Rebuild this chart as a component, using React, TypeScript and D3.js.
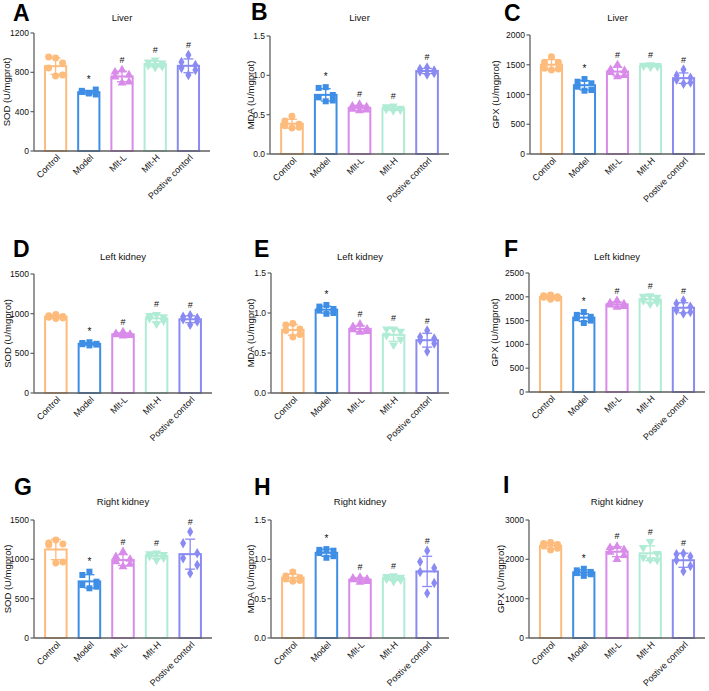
import React from "react";
import * as d3 from "d3";

// ---------- data ----------
const groups = ["Control", "Model", "Mlt-L", "Mlt-H", "Postive contorl"];
const signif = ["", "*", "#", "#", "#"];

const sodLiver = [
  [946, 956, 895, 844, 773, 763],
  [590, 612, 575, 600, 625, 585],
  [824, 803, 773, 753, 702, 692],
  [925, 905, 895, 870, 860, 850],
  [976, 905, 875, 844, 824, 773],
];
const mdaLiver = [
  [0.48, 0.42, 0.38, 0.36, 0.34, 0.33],
  [0.85, 0.84, 0.75, 0.72, 0.68, 0.67],
  [0.63, 0.61, 0.6, 0.57, 0.56, 0.55],
  [0.61, 0.6, 0.58, 0.57, 0.56, 0.55],
  [1.1, 1.08, 1.06, 1.05, 1.03, 1.01],
];
const gpxLiver = [
  [1635, 1541, 1541, 1440, 1430, 1412],
  [1260, 1215, 1188, 1131, 1076, 1064],
  [1500, 1420, 1400, 1370, 1320, 1300],
  [1500, 1490, 1485, 1480, 1470, 1460],
  [1420, 1320, 1280, 1250, 1200, 1180],
];
const sodLeft = [
  [990, 975, 965, 955, 945, 940],
  [640, 630, 620, 615, 610, 600],
  [770, 750, 740, 735, 725, 720],
  [990, 975, 960, 940, 910, 870],
  [980, 960, 945, 930, 900, 860],
];
const mdaLeft = [
  [0.87, 0.85, 0.8, 0.78, 0.73, 0.7],
  [1.1, 1.08, 1.05, 1.03, 1.0, 0.99],
  [0.86, 0.83, 0.8, 0.79, 0.77, 0.76],
  [0.8, 0.8, 0.77, 0.72, 0.67, 0.6],
  [0.78, 0.7, 0.68, 0.66, 0.62, 0.52],
];
const gpxLeft = [
  [2040, 2020, 2000, 1990, 1970, 1950],
  [1680, 1620, 1580, 1550, 1500, 1450],
  [1920, 1870, 1850, 1830, 1800, 1780],
  [2020, 2010, 1990, 1920, 1880, 1850],
  [1920, 1860, 1790, 1720, 1680, 1650],
];
const sodRight = [
  [1246, 1208, 1195, 1182, 966, 954],
  [843, 801, 716, 674, 652, 632],
  [1097, 1034, 1001, 970, 937, 906],
  [1080, 1070, 1060, 1040, 1020, 990],
  [1351, 1204, 1077, 1013, 928, 822],
];
const mdaRight = [
  [0.84, 0.79, 0.77, 0.75, 0.73, 0.72],
  [1.13, 1.12, 1.11, 1.08, 1.04, 1.02],
  [0.77, 0.76, 0.75, 0.74, 0.72, 0.71],
  [0.79, 0.78, 0.77, 0.75, 0.74, 0.72],
  [1.11, 0.97, 0.89, 0.84, 0.7, 0.57],
];
const gpxRight = [
  [2430, 2400, 2380, 2340, 2280, 2240],
  [1760, 1720, 1680, 1650, 1620, 1580],
  [2330, 2300, 2250, 2180, 2100, 2000],
  [2450, 2300, 2150, 2050, 1980, 1990],
  [2150, 2130, 2070, 1980, 1830, 1700],
];

const ticksSOD1200 = [0, 400, 800, 1200];
const ticksMDA = [0, 0.5, 1.0, 1.5];
const ticksGPX2000 = [0, 500, 1000, 1500, 2000];
const ticksSOD1500 = [0, 500, 1000, 1500];
const ticksGPX2500 = [0, 500, 1000, 1500, 2000, 2500];
const ticksGPX3000 = [0, 1000, 2000, 3000];

const panels = [
  { letter: "A", title: "Liver", yLabel: "SOD (U/mgprot)", data: sodLiver, ticks: ticksSOD1200, fmt: "d" },
  { letter: "B", title: "Liver", yLabel: "MDA (U/mgprot)", data: mdaLiver, ticks: ticksMDA, fmt: ".1f" },
  { letter: "C", title: "Liver", yLabel: "GPX (U/mgprot)", data: gpxLiver, ticks: ticksGPX2000, fmt: "d" },
  { letter: "D", title: "Left kidney", yLabel: "SOD (U/mgprot)", data: sodLeft, ticks: ticksSOD1500, fmt: "d" },
  { letter: "E", title: "Left kidney", yLabel: "MDA (U/mgprot)", data: mdaLeft, ticks: ticksMDA, fmt: ".1f" },
  { letter: "F", title: "Left kidney", yLabel: "GPX (U/mgprot)", data: gpxLeft, ticks: ticksGPX2500, fmt: "d" },
  { letter: "G", title: "Right kidney", yLabel: "SOD (U/mgprot)", data: sodRight, ticks: ticksSOD1500, fmt: "d" },
  { letter: "H", title: "Right kidney", yLabel: "MDA (U/mgprot)", data: mdaRight, ticks: ticksMDA, fmt: ".1f" },
  { letter: "I", title: "Right kidney", yLabel: "GPX (U/mgprot)", data: gpxRight, ticks: ticksGPX3000, fmt: "d" },
];

// ---------- layout / style ----------
const layout = [
  { x0: 34, x1: 210, yTop: 33, yBot: 151, lx: 13, ly: 21, tY: 21, yl: 6 },
  { x0: 270, x1: 449, yTop: 36, yBot: 154, lx: 251, ly: 20, tY: 21, yl: 250 },
  { x0: 530, x1: 705, yTop: 35, yBot: 154, lx: 504, ly: 21, tY: 21, yl: 495 },
  { x0: 34, x1: 212, yTop: 274, yBot: 393, lx: 13, ly: 257, tY: 260, yl: 7 },
  { x0: 271, x1: 449, yTop: 273, yBot: 393, lx: 254, ly: 257, tY: 260, yl: 250 },
  { x0: 529, x1: 705, yTop: 273, yBot: 392, lx: 504, ly: 257, tY: 260, yl: 494 },
  { x0: 34, x1: 212, yTop: 520, yBot: 638, lx: 14, ly: 495, tY: 505, yl: 7 },
  { x0: 271, x1: 449, yTop: 520, yBot: 638, lx: 254, ly: 495, tY: 505, yl: 250 },
  { x0: 529, x1: 705, yTop: 520, yBot: 638, lx: 503, ly: 493, tY: 505, yl: 500 },
];

const COLORS = ["#FDBB7C", "#3E8EE6", "#D98BEA", "#B0EBD5", "#8A8AF3"];
const SYMBOLS = [d3.symbolCircle, d3.symbolSquare, d3.symbolTriangle, d3.symbolTriangle, d3.symbolDiamond];
const SYM_SIZE = [38, 36, 34, 34, 32];
const SYM_ROT = [0, 0, 0, 180, 0];
const JITTER = [0, -0.3, 0.3, -0.3, 0.3, 0];
const AXIS_COLOR = "#5f5f5f";
const FONT = "'Liberation Sans', Arial, sans-serif";

function Panel({ p, l }: any) {
  const x = d3.scaleBand<string>().domain(groups).range([l.x0, l.x1]).paddingInner(0.3).paddingOuter(0.3);
  const yMax = p.ticks[p.ticks.length - 1];
  const y = d3.scaleLinear().domain([0, yMax]).range([l.yBot, l.yTop]);
  const fmt = d3.format(p.fmt);
  const bw = x.bandwidth();
  return (
    <g fontFamily={FONT}>
      <text x={l.lx} y={l.ly} fontSize={23} fontWeight="bold" fill="#000">{p.letter}</text>
      <text x={(l.x0 + l.x1) / 2} y={l.tY} fontSize={9.5} textAnchor="middle" fill="#111">{p.title}</text>
      <text
        transform={`translate(${l.yl},${(l.yTop + l.yBot) / 2}) rotate(-90)`}
        fontSize={9.5}
        textAnchor="middle"
        dominantBaseline="central"
        fill="#111"
      >
        {p.yLabel}
      </text>
      {groups.map((g, i) => {
        const vals: number[] = p.data[i];
        const mean = d3.mean(vals) as number;
        const sd = d3.deviation(vals) as number;
        const cx = (x(g) as number) + bw / 2;
        const col = COLORS[i];
        const sym = d3.symbol().type(SYMBOLS[i]).size(SYM_SIZE[i]);
        const topVal = Math.max(d3.max(vals) as number, mean + sd);
        return (
          <g key={g}>
            <rect
              x={(x(g) as number) + 1}
              y={y(mean)}
              width={bw - 2}
              height={y(0) - y(mean)}
              fill="white"
              stroke={col}
              strokeWidth={2}
            />
            {vals.map((v, k) => (
              <path
                key={k}
                d={sym() as string}
                transform={`translate(${cx + JITTER[k] * bw},${y(v)}) rotate(${SYM_ROT[i]})`}
                fill={col}
              />
            ))}
            <line x1={cx} x2={cx} y1={y(mean - sd)} y2={y(mean + sd)} stroke={col} strokeWidth={1.3} />
            <line x1={cx - 5} x2={cx + 5} y1={y(mean + sd)} y2={y(mean + sd)} stroke={col} strokeWidth={1.3} />
            <line x1={cx - 5} x2={cx + 5} y1={y(mean - sd)} y2={y(mean - sd)} stroke={col} strokeWidth={1.3} />
            {signif[i] && (
              <text x={cx} y={y(topVal) - 7} fontSize={signif[i] === "*" ? 10 : 9} textAnchor="middle" fill="#111">
                {signif[i]}
              </text>
            )}
            <text
              transform={`translate(${cx + 3},${l.yBot + 5}) rotate(-45)`}
              fontSize={9}
              textAnchor="end"
              dominantBaseline="central"
              fill="#111"
            >
              {g}
            </text>
          </g>
        );
      })}
      {/* axes */}
      <line x1={l.x0} x2={l.x0} y1={l.yTop} y2={l.yBot} stroke={AXIS_COLOR} strokeWidth={1.3} />
      <line x1={l.x0} x2={l.x1} y1={l.yBot} y2={l.yBot} stroke={AXIS_COLOR} strokeWidth={1.6} />
      {p.ticks.map((t: number) => (
        <g key={t}>
          <line x1={l.x0 - 3.5} x2={l.x0} y1={y(t)} y2={y(t)} stroke={AXIS_COLOR} strokeWidth={1.2} />
          <text x={l.x0 - 5} y={y(t)} fontSize={8.5} textAnchor="end" dominantBaseline="central" fill="#111">
            {fmt(t)}
          </text>
        </g>
      ))}
    </g>
  );
}

export default function App() {
  return (
    <svg width={709} height={691} style={{ position: "absolute", left: 0, top: 0, background: "white" }}>
      <rect width={709} height={691} fill="white" />
      {panels.map((p, i) => (
        <Panel key={p.letter} p={p} l={layout[i]} />
      ))}
    </svg>
  );
}
